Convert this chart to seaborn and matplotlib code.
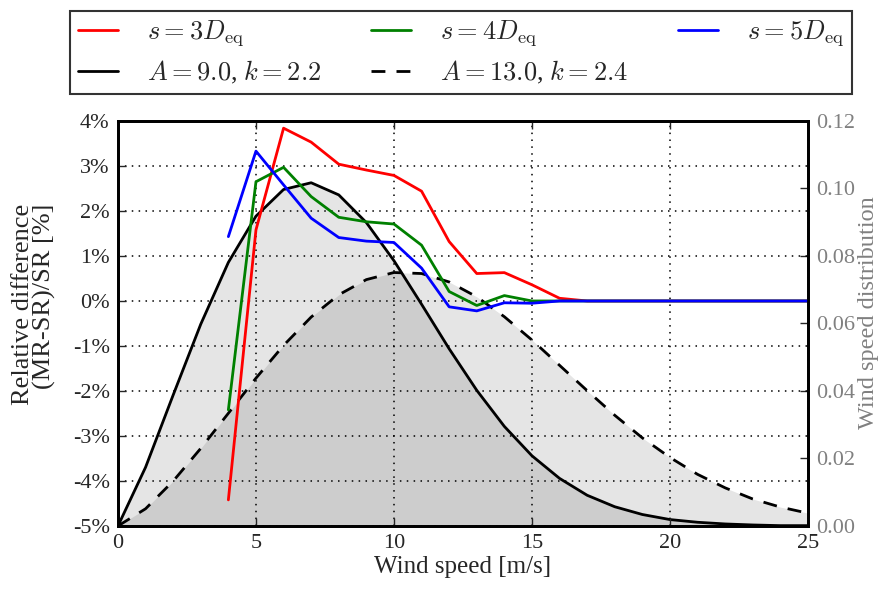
import matplotlib
matplotlib.use('Agg')
import matplotlib.pyplot as plt
import matplotlib.ticker as mticker
import seaborn as sns
import pandas as pd

# --- Data ---
speeds_all = list(range(0, 26))
weibull_a9 = [0.0, 0.0174, 0.0388, 0.0598, 0.0781, 0.0918, 0.0997, 0.1017, 0.0981,
              0.0899, 0.0786, 0.0657, 0.0525, 0.0402, 0.0295, 0.0208, 0.0141, 0.0091,
              0.0057, 0.0034, 0.0019, 0.0011, 0.0006, 0.0003, 0.0001, 0.0001]
weibull_a13 = [0.0, 0.0051, 0.0133, 0.0230, 0.0334, 0.0438, 0.0535, 0.0619, 0.0685,
               0.0730, 0.0751, 0.0748, 0.0723, 0.0679, 0.0620, 0.0551, 0.0476, 0.0401,
               0.0328, 0.0261, 0.0203, 0.0153, 0.0113, 0.0080, 0.0056, 0.0038]

speeds = list(range(4, 26))
diff_3d = [-4.42, 1.58, 3.84, 3.53, 3.04, 2.91, 2.79, 2.44, 1.32, 0.61, 0.63, 0.36, 0.06,
           0.0, 0.0, 0.0, 0.0, 0.0, 0.0, 0.0, 0.0, 0.0]
diff_4d = [-2.42, 2.65, 2.97, 2.32, 1.86, 1.76, 1.71, 1.24, 0.21, -0.10, 0.12, 0.0, 0.0,
           0.0, 0.0, 0.0, 0.0, 0.0, 0.0, 0.0, 0.0, 0.0]
diff_5d = [1.43, 3.33, 2.58, 1.84, 1.41, 1.33, 1.30, 0.73, -0.13, -0.22, -0.04, -0.05, 0.0,
           0.0, 0.0, 0.0, 0.0, 0.0, 0.0, 0.0, 0.0, 0.0]

sns.set_style('ticks')
plt.rcParams['font.family'] = ['Liberation Serif', 'DejaVu Serif']
plt.rcParams['mathtext.fontset'] = 'cm'
plt.rcParams['axes.unicode_minus'] = False

df_w = pd.DataFrame({'ws': speeds_all, 'a9': weibull_a9, 'a13': weibull_a13})
df_d = pd.DataFrame({'ws': speeds, 'd3': diff_3d, 'd4': diff_4d, 'd5': diff_5d})

fig = plt.figure(figsize=(8.83, 5.89), dpi=100)
ax = fig.add_axes([0.1336, 0.107, 0.7814, 0.6876])
ax2 = ax.twinx()

# Wind speed distributions (right axis)
ax2.fill_between(df_w['ws'], 0, df_w['a9'], color='k', alpha=0.1, lw=0)
ax2.fill_between(df_w['ws'], 0, df_w['a13'], color='k', alpha=0.1, lw=0)
sns.lineplot(data=df_w, x='ws', y='a9', ax=ax2, color='k', lw=2,
             label=r'$A=9.0$, $k=2.2$', legend=False)
sns.lineplot(data=df_w, x='ws', y='a13', ax=ax2, color='k', lw=2,
             label=r'$A=13.0$, $k=2.4$', legend=False)
ax2.lines[1].set_dashes((5, 4))

# Relative differences (left axis)
sns.lineplot(data=df_d, x='ws', y='d3', ax=ax, color='red', lw=2,
             label=r'$s=3D_{\rm eq}$', legend=False)
sns.lineplot(data=df_d, x='ws', y='d4', ax=ax, color='green', lw=2,
             label=r'$s=4D_{\rm eq}$', legend=False)
sns.lineplot(data=df_d, x='ws', y='d5', ax=ax, color='blue', lw=2,
             label=r'$s=5D_{\rm eq}$', legend=False)

ax.set_zorder(ax2.get_zorder() + 1)
ax.patch.set_visible(False)

ax.set_xlim(0, 25)
ax.set_ylim(-5, 4)
ax2.set_ylim(0, 0.12)
ax.set_yticks(range(-5, 5))
ax.yaxis.set_major_formatter(mticker.FuncFormatter(lambda v, p: '%d%%' % v))
ax2.set_yticks([0, 0.02, 0.04, 0.06, 0.08, 0.10, 0.12])
ax2.yaxis.set_major_formatter(mticker.FormatStrFormatter('%.2f'))

ax.grid(True, color='k', linestyle=(0, (1, 3.5)), linewidth=1.1)
ax.set_xlabel('Wind speed [m/s]', fontsize=18, labelpad=2)
ax.set_ylabel('Relative difference\n(MR-SR)/SR [%]', fontsize=19,
              linespacing=0.95, labelpad=12, multialignment='right')
ax.yaxis.label.set_y(0.548)
ax2.set_ylabel('Wind speed distribution', fontsize=17.5, color='0.5', labelpad=2)
ax2.yaxis.label.set_y(0.528)

ax.tick_params(direction='in', length=6, width=1, labelsize=16, pad=6, top=True)
ax2.tick_params(direction='in', length=6, width=1, labelsize=16, pad=6,
                labelcolor='0.5')
for a in (ax, ax2):
    for s in a.spines.values():
        s.set_linewidth(2)
        s.set_color('k')
ax2.set_xlabel('')

h1, l1 = ax.get_legend_handles_labels()
h2, l2 = ax2.get_legend_handles_labels()
handles = [h1[0], h2[0], h1[1], h2[1], h1[2]]
labels = [l1[0], l2[0], l1[1], l2[1], l1[2]]
leg = fig.legend(handles, labels, ncol=3, mode='expand', fontsize=19,
                 bbox_to_anchor=(70 / 883, 1 - 94 / 589, 782 / 883, 84 / 589),
                 loc='lower left', fancybox=False, frameon=True,
                 handlelength=1.5, handletextpad=1.1, labelspacing=0.4,
                 borderaxespad=0.0, borderpad=0.3)
leg.get_frame().set_edgecolor('k')
leg.get_frame().set_linewidth(1.5)

plt.savefig('out.png', dpi=100)
